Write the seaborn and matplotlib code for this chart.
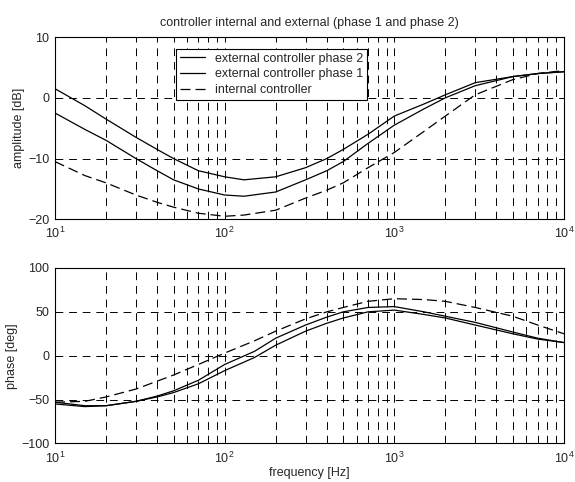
import numpy as np
import pandas as pd
import matplotlib
matplotlib.use("Agg")
import matplotlib.pyplot as plt
import seaborn as sns

sns.set_style("white")
plt.rcParams['font.family'] = ['Liberation Sans', 'DejaVu Sans']

freq = [10, 15, 20, 30, 40, 50, 70, 100, 130, 200, 300, 400, 500, 700, 1000, 1500, 2000, 3000, 5000, 7000, 10000]

amp_ext2 = [1.5, -1.3, -3.5, -6.5, -8.5, -10, -12, -13, -13.5, -13, -11.5, -10, -8.5, -6, -3, -1, 0.5, 2.5, 3.5, 4.0, 4.3]
amp_ext1 = [-2.5, -5.2, -7, -10, -12, -13.5, -15, -16, -16.2, -15.5, -13.5, -12, -10.5, -7.5, -4.5, -1.8, 0, 2, 3.5, 4.0, 4.3]
amp_int = [-10.5, -12.8, -14, -16, -17.2, -18, -19, -19.5, -19.3, -18.5, -16.5, -15.2, -14, -11.5, -9, -5.5, -3, 0.5, 3, 4.0, 4.5]

phase_freq = [10, 15, 20, 30, 40, 50, 70, 100, 150, 200, 300, 400, 500, 700, 1000, 1500, 2000, 3000, 5000, 7000, 10000]
ph_ext2 = [-53, -57, -57, -52, -46, -40, -28, -10, 5, 20, 35, 44, 50, 55, 56, 50, 45, 38, 27, 20, 15]
ph_ext1 = [-55, -58, -57, -52, -47, -42, -32, -17, -2, 12, 28, 37, 43, 50, 52, 47, 43, 35, 25, 19, 15]
ph_int = [-53, -52, -47, -38, -29, -22, -10, 3, 17, 28, 42, 50, 55, 62, 65, 64, 62, 55, 45, 35, 25]

labels = ["external controller phase 2", "external controller phase 1", "internal controller"]

amp_df = pd.concat([
    pd.DataFrame({"f": freq, "v": amp_ext2, "s": labels[0]}),
    pd.DataFrame({"f": freq, "v": amp_ext1, "s": labels[1]}),
    pd.DataFrame({"f": freq, "v": amp_int, "s": labels[2]}),
])
ph_df = pd.concat([
    pd.DataFrame({"f": phase_freq, "v": ph_ext2, "s": labels[0]}),
    pd.DataFrame({"f": phase_freq, "v": ph_ext1, "s": labels[1]}),
    pd.DataFrame({"f": phase_freq, "v": ph_int, "s": labels[2]}),
])

fig = plt.figure(figsize=(5.75, 4.82), dpi=100)
ax1 = fig.add_axes([0.0957, 0.545, 0.885, 0.378])
ax2 = fig.add_axes([0.0957, 0.080, 0.885, 0.364])

palette = {labels[0]: "black", labels[1]: "black", labels[2]: "black"}
dashes = {labels[0]: "", labels[1]: "", labels[2]: (8, 4)}

for ax, df in [(ax1, amp_df), (ax2, ph_df)]:
    sns.lineplot(data=df, x="f", y="v", hue="s", style="s", palette=palette,
                 dashes=dashes, ax=ax, linewidth=0.9, legend=(ax is ax1), estimator=None)
    ax.set_xscale("log")
    ax.set_xlim(10, 10000)
    ax.grid(True, which="major", axis="both", color="black", linestyle=(0, (8, 6)), linewidth=0.7)
    ax.grid(True, which="minor", axis="x", color="black", linestyle=(0, (8, 6)), linewidth=0.7)
    ax.tick_params(labelsize=9, which="both", direction="in", length=0)
    ax.tick_params(axis="x", pad=5)
    ax.tick_params(axis="y", pad=4)
    for sp in ax.spines.values():
        sp.set_color("black")
        sp.set_linewidth(0.8)

ax1.set_ylim(-20, 10)
ax1.set_yticks([-20, -10, 0, 10])
ax1.set_ylabel("amplitude [dB]", fontsize=9, labelpad=2)
ax1.set_xlabel("")
ax1.set_title("controller internal and external (phase 1 and phase 2)", fontsize=9, pad=8)

ax2.set_ylim(-100, 100)
ax2.set_yticks([-100, -50, 0, 50, 100])
ax2.set_ylabel("phase [deg]", fontsize=9, labelpad=2)
ax2.set_xlabel("frequency [Hz]", fontsize=9, labelpad=1)

leg = ax1.legend(loc="upper left", bbox_to_anchor=(0.225, 0.97), fontsize=9, frameon=True,
                 fancybox=False, edgecolor="black", framealpha=1, handlelength=2.0,
                 borderpad=0.3, labelspacing=0.3)
leg.get_frame().set_linewidth(0.8)

fig.savefig("out.png", dpi=100)
